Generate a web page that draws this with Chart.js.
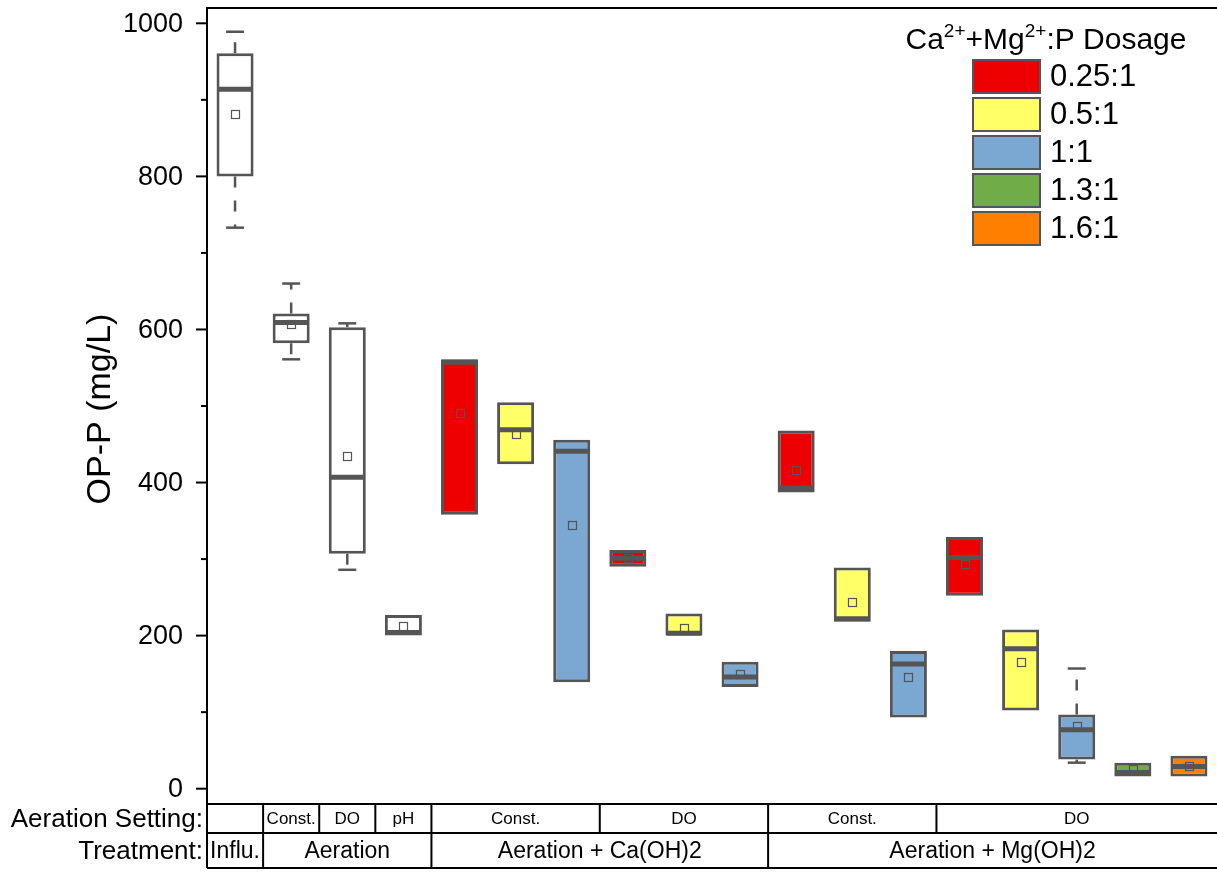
<!DOCTYPE html>
<html>
<head>
<meta charset="utf-8">
<title>OP-P by treatment</title>
<script src="https://cdn.jsdelivr.net/npm/chart.js@4.4.1/dist/chart.umd.min.js"></script>
<style>
  html, body { margin: 0; padding: 0; background: #ffffff; }
  canvas { display: block; }
</style>
</head>
<body>
<canvas id="chart" width="1217" height="877"></canvas>
<script>
// ---- data -------------------------------------------------------------
const categories = [
  'Influ.',
  'Aer Const.', 'Aer DO', 'Aer pH',
  'Ca Const. 0.25', 'Ca Const. 0.5', 'Ca Const. 1',
  'Ca DO 0.25', 'Ca DO 0.5', 'Ca DO 1',
  'Mg Const. 0.25', 'Mg Const. 0.5', 'Mg Const. 1',
  'Mg DO 0.25', 'Mg DO 0.5', 'Mg DO 1', 'Mg DO 1.3', 'Mg DO 1.6'
];
// box edges (25th / 75th percentile), mg/L
const q1 = [800, 582, 307, 200, 358, 424, 139, 290, 200, 133, 387, 218, 93, 252, 102, 38, 16, 16];
const q3 = [961, 621, 603, 227, 561, 505, 456, 312, 229, 166, 468, 289, 180, 329, 208, 97, 34, 43];
const medians = [914, 609, 407, 204, 557, 469, 441, 301, 203, 146, 393, 222, 163, 302, 183, 77, 21, 29];
const means = [881, 607, 435, 212, 491, 464, 345, 302, 210, 150, 417, 244, 146, 294, 165, 82, 26, 30];
// whisker ends (equal to the box edge where no whisker is drawn)
const whiskerLow = [733, 561, 286, 200, 358, 424, 139, 290, 200, 133, 387, 218, 93, 252, 102, 34, 16, 16];
const whiskerHigh = [989, 660, 608, 227, 561, 505, 456, 312, 229, 166, 468, 289, 180, 329, 208, 157, 34, 43];
// dosage group per box: -1 = no chemical dosing
const dosage = [-1, -1, -1, -1, 0, 1, 2, 0, 1, 2, 0, 1, 2, 0, 1, 2, 3, 4];
const dosageLabels = ['0.25:1', '0.5:1', '1:1', '1.3:1', '1.6:1'];

// category table under the plot
const settingLabels = ['', 'Const.', 'DO', 'pH', 'Const.', 'DO', 'Const.', 'DO'];
const settingSpans = [1, 1, 1, 1, 3, 3, 3, 5];
const treatmentLabels = ['Influ.', 'Aeration', 'Aeration + Ca(OH)2', 'Aeration + Mg(OH)2'];
const treatmentSpans = [1, 3, 6, 8];

const yTicks = [0, 200, 400, 600, 800, 1000];
const yMinorTicks = [100, 300, 500, 700, 900];

// ---- styles -------------------------------------------------------------
const FONT = '"Liberation Sans", Arial, Helvetica, sans-serif';
const LINE = '#555555';
const dosageColors = ['#EE0000', '#FFFF66', '#7BA7D3', '#70AD47', '#FF8000'];
const plainFill = '#FFFFFF';

const boxColors = dosage.map(d => (d < 0 ? plainFill : dosageColors[d]));

// ---- box-plot extras: whiskers, medians, means --------------------------
const boxExtras = {
  id: 'boxExtras',
  afterDatasetsDraw(chart) {
    const { ctx } = chart;
    const y = chart.scales.y;
    const meta = chart.getDatasetMeta(0);
    meta.data.forEach((bar, i) => {
      const cx = bar.x;
      const hw = bar.width / 2;
      ctx.save();
      ctx.strokeStyle = LINE;

      const whisker = (from, to) => {
        if (Math.abs(to - from) < 0.5) return;
        const y0 = y.getPixelForValue(from);
        const y1 = y.getPixelForValue(to);
        ctx.lineWidth = 2.5;
        ctx.setLineDash([11, 13]);
        ctx.beginPath();
        ctx.moveTo(cx, y0);
        ctx.lineTo(cx, y1);
        ctx.stroke();
        ctx.setLineDash([]);
        ctx.beginPath();
        ctx.moveTo(cx - 9, y1);
        ctx.lineTo(cx + 9, y1);
        ctx.stroke();
      };
      whisker(q3[i], whiskerHigh[i]);
      whisker(q1[i], whiskerLow[i]);

      // median
      const ym = y.getPixelForValue(medians[i]);
      ctx.lineWidth = 5;
      ctx.beginPath();
      ctx.moveTo(cx - hw + 1, ym);
      ctx.lineTo(cx + hw - 1, ym);
      ctx.stroke();

      // mean marker (hollow square)
      const ya = y.getPixelForValue(means[i]);
      ctx.lineWidth = 1.2;
      ctx.strokeRect(Math.round(cx - 4) + 0.5, Math.round(ya - 4) + 0.5, 8, 8);
      ctx.restore();
    });
  },
  afterDraw(chart) {
    const { ctx, chartArea } = chart;
    const x = chart.scales.x;
    const y = chart.scales.y;
    const left = chartArea.left;
    const right = 1217;
    ctx.save();

    // top frame line
    ctx.strokeStyle = '#000';
    ctx.lineWidth = 2;
    ctx.beginPath();
    ctx.moveTo(left, chartArea.top);
    ctx.lineTo(right, chartArea.top);
    ctx.stroke();

    // y ticks and labels
    ctx.fillStyle = '#000';
    ctx.font = `27px ${FONT}`;
    ctx.textAlign = 'right';
    ctx.textBaseline = 'middle';
    yTicks.forEach(v => {
      const py = y.getPixelForValue(v);
      ctx.beginPath();
      ctx.moveTo(left - 11, py);
      ctx.lineTo(left, py);
      ctx.stroke();
      ctx.fillText(String(v), 183, py + 1);
    });
    yMinorTicks.forEach(v => {
      const py = y.getPixelForValue(v);
      ctx.beginPath();
      ctx.moveTo(left - 6, py);
      ctx.lineTo(left, py);
      ctx.stroke();
    });

    // y axis title
    ctx.save();
    ctx.translate(101, 409);
    ctx.rotate(-Math.PI / 2);
    ctx.textAlign = 'center';
    ctx.textBaseline = 'middle';
    ctx.font = `34px ${FONT}`;
    ctx.fillText('OP-P (mg/L)', 0, 0);
    ctx.restore();

    // legend
    const titleParts = [['Ca', 0], ['2+', 1], ['+Mg', 0], ['2+', 1], [':P Dosage', 0]];
    const tSize = 30, sSize = 19;
    let tw = 0;
    titleParts.forEach(([t, sup]) => {
      ctx.font = `${sup ? sSize : tSize}px ${FONT}`;
      tw += ctx.measureText(t).width;
    });
    let tx = 1046 - tw / 2;
    const tBase = 49;
    ctx.textAlign = 'left';
    ctx.textBaseline = 'alphabetic';
    titleParts.forEach(([t, sup]) => {
      ctx.font = `${sup ? sSize : tSize}px ${FONT}`;
      ctx.fillText(t, tx, sup ? tBase - 12 : tBase);
      tx += ctx.measureText(t).width;
    });

    const lx = 973, ly0 = 60, lstep = 38, lw = 67, lh = 33;
    dosageLabels.forEach((lab, k) => {
      const top = ly0 + k * lstep;
      ctx.fillStyle = dosageColors[k];
      ctx.fillRect(lx, top, lw, lh);
      ctx.strokeStyle = LINE;
      ctx.lineWidth = 2;
      ctx.strokeRect(lx, top, lw, lh);
      ctx.fillStyle = '#000';
      ctx.font = `31px ${FONT}`;
      ctx.textBaseline = 'middle';
      ctx.fillText(lab, 1050, top + lh / 2 + 1);
    });

    // category table
    const rowTop = chartArea.bottom;
    const rowMid = 833;
    const rowBot = 868;
    const edge = k => {
      if (k <= 0) return left;
      if (k >= categories.length) return right;
      return (x.getPixelForValue(k - 1) + x.getPixelForValue(k)) / 2;
    };
    ctx.strokeStyle = '#000';
    ctx.lineWidth = 2;
    [rowTop, rowMid, rowBot].forEach(py => {
      ctx.beginPath();
      ctx.moveTo(left, py);
      ctx.lineTo(right, py);
      ctx.stroke();
    });
    ctx.beginPath();
    ctx.moveTo(left, rowTop);
    ctx.lineTo(left, rowBot);
    ctx.stroke();

    ctx.fillStyle = '#000';
    ctx.textAlign = 'center';
    ctx.textBaseline = 'middle';
    let k = 0;
    settingLabels.forEach((lab, j) => {
      const a = edge(k);
      k += settingSpans[j];
      const b = edge(k);
      if (k < categories.length) {
        ctx.beginPath();
        ctx.moveTo(b, rowTop);
        ctx.lineTo(b, rowMid);
        ctx.stroke();
      }
      ctx.font = `17px ${FONT}`;
      ctx.fillText(lab, (a + b) / 2, (rowTop + rowMid) / 2 + 1);
    });
    k = 0;
    treatmentLabels.forEach((lab, j) => {
      const a = edge(k);
      k += treatmentSpans[j];
      const b = edge(k);
      if (k < categories.length) {
        ctx.beginPath();
        ctx.moveTo(b, rowMid);
        ctx.lineTo(b, rowBot);
        ctx.stroke();
      }
      ctx.font = `23px ${FONT}`;
      ctx.fillText(lab, (a + b) / 2, (rowMid + rowBot) / 2 + 1);
    });

    ctx.textAlign = 'right';
    ctx.font = `26px ${FONT}`;
    ctx.fillText('Aeration Setting:', 203, (rowTop + rowMid) / 2 + 1);
    ctx.fillText('Treatment:', 203, (rowMid + rowBot) / 2 + 1);
    ctx.restore();
  }
};

// ---- chart --------------------------------------------------------------
new Chart(document.getElementById('chart'), {
  type: 'bar',
  data: {
    labels: categories,
    datasets: [{
      data: q1.map((v, i) => [v, q3[i]]),
      backgroundColor: boxColors,
      borderColor: LINE,
      borderWidth: 3,
      borderSkipped: false,
      barPercentage: 0.66,
      categoryPercentage: 1
    }]
  },
  options: {
    responsive: false,
    devicePixelRatio: 1,
    animation: false,
    events: [],
    layout: { padding: { left: 0, right: 0, top: 8, bottom: 73 } },
    plugins: { legend: { display: false }, tooltip: { enabled: false } },
    scales: {
      x: { display: false },
      y: {
        min: -20,
        max: 1020,
        afterFit(scale) { scale.width = 207; },
        grid: { display: false, drawTicks: false },
        border: { display: true, color: '#000', width: 2 },
        ticks: { display: false }
      }
    }
  },
  plugins: [boxExtras]
});
</script>
</body>
</html>
